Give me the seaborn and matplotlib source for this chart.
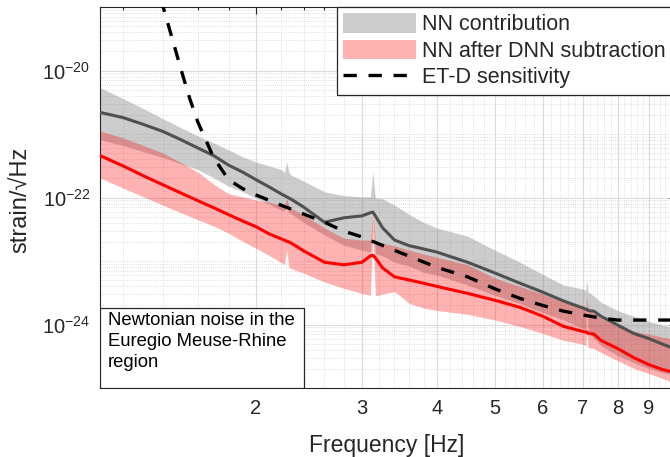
import numpy as np
import matplotlib
matplotlib.use("Agg")
import matplotlib.pyplot as plt
import seaborn as sns
from matplotlib.ticker import FixedLocator, LogLocator, NullFormatter, FixedFormatter
from matplotlib.patches import Rectangle, Patch
from matplotlib.lines import Line2D

# ---------------- data (log10 of strain/sqrt(Hz)) ----------------
freq = [1.1, 1.2, 1.3, 1.4, 1.5, 1.6, 1.7, 1.8, 1.9, 2.0, 2.1, 2.2, 2.23, 2.25, 2.27,
        2.3, 2.4, 2.6, 2.8, 3.0, 3.1, 3.13, 3.16, 3.25, 3.4, 3.6, 3.8, 4.0, 4.5, 5.0,
        5.5, 6.0, 6.5, 7.0, 7.08, 7.11, 7.14, 7.3, 7.5, 8.0, 8.5, 9.0, 9.5, 10.0]

nn_median_log = [-20.66, -20.74, -20.85, -20.96, -21.09, -21.22, -21.34, -21.49, -21.60, -21.72,
                 -21.83, -21.94, -21.97, -21.99, -22.01, -22.04, -22.15, -22.39, -22.32, -22.29,
                 -22.24, -22.23, -22.29, -22.48, -22.67, -22.76, -22.81, -22.86, -23.02, -23.19,
                 -23.35, -23.49, -23.63, -23.74, -23.76, -23.76, -23.78, -23.79, -23.87, -24.01,
                 -24.14, -24.22, -24.31, -24.39]
nn_upper_log = [-20.27, -20.44, -20.60, -20.76, -20.90, -21.03, -21.14, -21.25, -21.36, -21.44,
                -21.50, -21.56, -21.60, -21.44, -21.61, -21.66, -21.74, -21.91, -21.97, -21.99,
                -21.99, -21.60, -22.01, -22.02, -22.12, -22.27, -22.39, -22.48, -22.61, -22.83,
                -23.02, -23.21, -23.38, -23.44, -23.46, -23.30, -23.49, -23.55, -23.65, -23.78,
                -23.87, -23.95, -24.01, -24.06]
nn_lower_log = [-21.09, -21.18, -21.28, -21.37, -21.47, -21.56, -21.69, -21.82, -21.91, -22.01,
                -22.10, -22.20, -22.21, -22.12, -22.24, -22.27, -22.39, -22.59, -22.75, -22.83,
                -22.86, -22.24, -22.88, -22.92, -23.02, -23.08, -23.18, -23.22, -23.38, -23.54,
                -23.67, -23.81, -23.93, -24.06, -24.09, -23.62, -24.12, -24.22, -24.33, -24.49,
                -24.60, -24.69, -24.76, -24.80]

dnn_median_log = [-21.34, -21.50, -21.66, -21.80, -21.93, -22.05, -22.16, -22.27, -22.37, -22.46,
                  -22.57, -22.65, -22.67, -22.69, -22.70, -22.73, -22.84, -23.02, -23.06, -23.02,
                  -22.92, -22.91, -22.95, -23.11, -23.25, -23.30, -23.35, -23.40, -23.51, -23.62,
                  -23.73, -23.87, -24.03, -24.11, -24.12, -24.12, -24.14, -24.15, -24.25, -24.38,
                  -24.52, -24.63, -24.71, -24.76]
dnn_upper_log = [-20.95, -21.06, -21.18, -21.30, -21.45, -21.60, -21.79, -21.94, -21.99, -22.04,
                 -22.07, -22.12, -22.12, -22.02, -22.15, -22.18, -22.27, -22.48, -22.64, -22.67,
                 -22.67, -22.24, -22.69, -22.72, -22.76, -22.83, -22.89, -22.94, -23.06, -23.27,
                 -23.40, -23.52, -23.65, -23.71, -23.73, -23.57, -23.76, -23.82, -23.90, -24.03,
                 -24.11, -24.15, -24.20, -24.23]
dnn_lower_log = [-21.69, -21.85, -21.99, -22.12, -22.24, -22.35, -22.45, -22.56, -22.69, -22.80,
                 -22.91, -23.02, -23.06, -22.83, -23.10, -23.13, -23.19, -23.33, -23.43, -23.51,
                 -23.54, -22.54, -23.55, -23.52, -23.48, -23.67, -23.74, -23.78, -23.84, -23.93,
                 -24.03, -24.14, -24.25, -24.31, -24.33, -24.09, -24.36, -24.38, -24.44, -24.57,
                 -24.69, -24.77, -24.85, -24.93]

etd_freq = [1.35, 1.4, 1.45, 1.5, 1.55, 1.6, 1.7, 1.8, 1.9, 2.0, 2.2, 2.4, 2.6, 2.8, 3.0,
            3.2, 3.5, 4.0, 4.5, 5.0, 5.5, 6.0, 6.5, 7.0, 7.5, 8.0, 9.0, 10.0]
etd_log = [-18.40, -18.99, -19.49, -19.98, -20.43, -20.81, -21.37, -21.72, -21.86, -21.96,
           -22.12, -22.26, -22.39, -22.53, -22.62, -22.73, -22.88, -23.10, -23.25, -23.44,
           -23.59, -23.70, -23.79, -23.85, -23.90, -23.93, -23.93, -23.93]

x_major = [2, 3, 4, 5, 6, 7, 8, 9]
x_labels = ["2", "3", "4", "5", "6", "7", "8", "9"]
y_major = [1e-24, 1e-22, 1e-20]

legend_labels = ["NN contribution", "NN after DNN subtraction", "ET-D sensitivity"]
note_text = "Newtonian noise in the\nEuregio Meuse-Rhine\nregion"

# ---------------- style ----------------
sns.set_style("white")
plt.rcParams["font.family"] = ["Liberation Sans", "DejaVu Sans"]
plt.rcParams["mathtext.fontset"] = "custom"
plt.rcParams["mathtext.rm"] = "Liberation Sans"
plt.rcParams["mathtext.it"] = "Liberation Sans"
plt.rcParams["mathtext.bf"] = "Liberation Sans"
plt.rcParams["mathtext.default"] = "regular"

axc = "#262626"

fig = plt.figure(figsize=(6.7, 4.57), dpi=100)
ax = fig.add_axes([100 / 670, 69 / 457, 576 / 670, 381 / 457])
ax.set_xscale("log")
ax.set_yscale("log")

f = np.array(freq)
p = lambda a: 10.0 ** np.array(a)

ax.fill_between(f, p(nn_lower_log), p(nn_upper_log), color="#808080", alpha=0.4, lw=0, zorder=2)
ax.fill_between(f, p(dnn_lower_log), p(dnn_upper_log), color="#ff0000", alpha=0.3, lw=0, zorder=2)

sns.lineplot(x=f, y=p(nn_median_log), ax=ax, color="#505050", lw=2.2, estimator=None, zorder=3)
sns.lineplot(x=f, y=p(dnn_median_log), ax=ax, color="#ff0000", lw=2.2, estimator=None, zorder=3)
sns.lineplot(x=np.array(etd_freq), y=p(etd_log), ax=ax, color="black", lw=2.4,
             linestyle=(0, (4, 3.5)), estimator=None, zorder=4)

ax.set_xlim(1.1, 10.0)
ax.set_ylim(1e-25, 1e-19)

# ticks
ax.xaxis.set_major_locator(FixedLocator(x_major))
ax.xaxis.set_major_formatter(FixedFormatter(x_labels))
minor_x = [v / 10 for v in range(12, 100, 2) if v % 10 != 0]
ax.xaxis.set_minor_locator(FixedLocator(minor_x))
ax.xaxis.set_minor_formatter(NullFormatter())
ax.yaxis.set_major_locator(FixedLocator(y_major))
ax.yaxis.set_minor_locator(LogLocator(base=10, subs=np.arange(1, 10), numticks=50))
ax.yaxis.set_minor_formatter(NullFormatter())

ax.tick_params(which="both", direction="in", top=True, right=True, colors=axc,
               labelsize=14.5, width=0.8)
ax.tick_params(which="major", length=5)
ax.tick_params(which="minor", length=2.5)
ax.tick_params(axis="x", pad=8)
ax.tick_params(axis="y", pad=7)

ax.grid(True, which="major", color="#dcdcdc", lw=0.8, ls="-", zorder=0)
ax.grid(True, which="minor", color="#d2d2d2", lw=0.6, ls=":", zorder=0)
ax.set_axisbelow(True)

for s in ax.spines.values():
    s.set_color(axc)
    s.set_linewidth(0.8)

ax.set_xlabel("Frequency [Hz]", fontsize=16.5, color=axc)
ax.set_ylabel("strain/\u221aHz", fontsize=17, color=axc)
ax.xaxis.set_label_coords(0.497, -0.122)
ax.yaxis.set_label_coords(-0.118, 0.493)

# annotation box
ax.add_patch(Rectangle((0, 0), 204 / 576, 80 / 381, transform=ax.transAxes,
                       facecolor="white", edgecolor=axc, lw=0.9, zorder=6))
ax.text(8 / 576, (388 - 312) / 381, note_text, transform=ax.transAxes, fontsize=13.3,
        va="top", ha="left", linespacing=1.3, color="black", zorder=7)

# legend
handles = [Patch(facecolor="#808080", alpha=0.4, edgecolor="none"),
           Patch(facecolor="#ff0000", alpha=0.3, edgecolor="none"),
           Line2D([], [], color="black", lw=2.4, linestyle=(0, (4, 3.5)))]
leg = ax.legend(handles, legend_labels, loc="upper left",
                bbox_to_anchor=(337 / 670, 1 - 7 / 457), bbox_transform=fig.transFigure,
                fontsize=15.5, frameon=True, fancybox=False, framealpha=1,
                edgecolor=axc, handlelength=3.35, handleheight=1.0, handletextpad=0.3,
                labelspacing=0.2, borderpad=0.3, borderaxespad=0)
leg.get_frame().set_linewidth(0.9)
leg.set_zorder(10)

fig.savefig("out.png", dpi=100)
